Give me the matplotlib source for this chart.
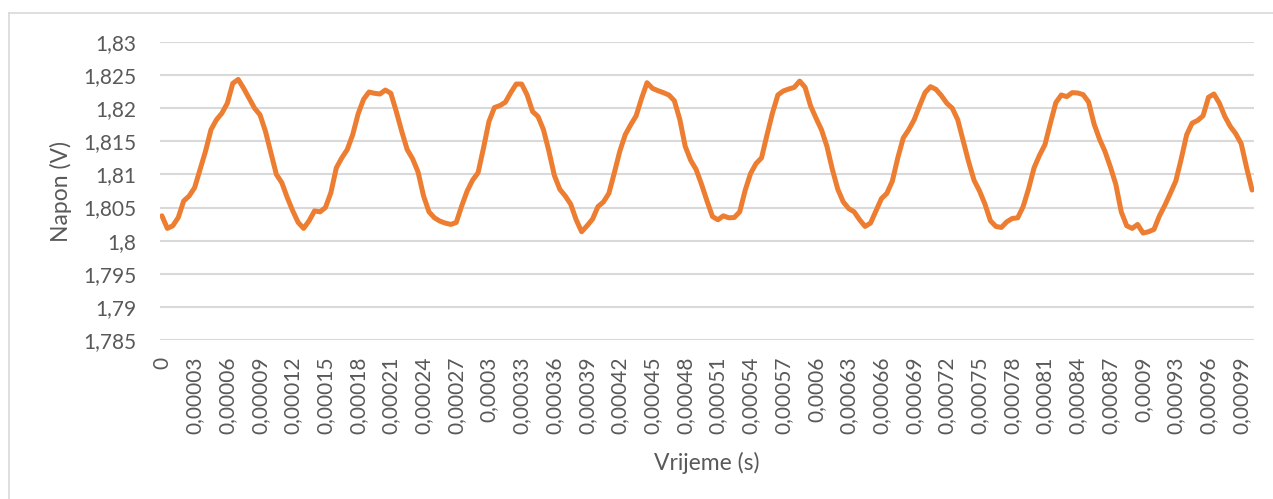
import numpy as np
import matplotlib
matplotlib.use('Agg')
import matplotlib.pyplot as plt
from matplotlib.lines import Line2D

# measured voltage, one sample every 5 us
napon = [
    1.80375, 1.80185, 1.80225, 1.8035, 1.806, 1.80675, 1.808, 1.81075, 1.8135, 1.81675,
    1.81825, 1.81925, 1.82075, 1.82375, 1.82435, 1.823, 1.8215, 1.82, 1.819, 1.8165,
    1.81325, 1.81, 1.80875, 1.8065, 1.8045, 1.80275, 1.80185, 1.803, 1.8045, 1.80435,
    1.805, 1.80725, 1.811, 1.8125, 1.81375, 1.816, 1.81915, 1.82135, 1.82245, 1.82225,
    1.82215, 1.82275, 1.82225, 1.8195, 1.8165, 1.81375, 1.81235, 1.81035, 1.80675, 1.80435,
    1.80345, 1.80295, 1.80265, 1.80245, 1.80275, 1.80525, 1.8075, 1.80915, 1.81025, 1.814,
    1.818, 1.8201, 1.8204, 1.8209, 1.82235, 1.82365, 1.82365, 1.822, 1.8195, 1.81875,
    1.81675, 1.8135, 1.80985, 1.80775, 1.80675, 1.8055, 1.80315, 1.80135, 1.80225, 1.80325,
    1.80515, 1.80585, 1.80715, 1.81025, 1.8135, 1.816, 1.8175, 1.81885, 1.8215, 1.82385,
    1.823, 1.82265, 1.82235, 1.822, 1.82115, 1.81835, 1.81425, 1.81215, 1.81075, 1.8085,
    1.806, 1.80365, 1.80315, 1.80375, 1.80345, 1.8035, 1.80435, 1.8076, 1.81015, 1.81165,
    1.8125, 1.81595, 1.81925, 1.822, 1.8226, 1.8229, 1.82315, 1.8241, 1.82315, 1.82035,
    1.8185, 1.81675, 1.81425, 1.81075, 1.80775, 1.80585, 1.80485, 1.80435, 1.80315, 1.80215,
    1.80265, 1.8045, 1.80635, 1.80715, 1.809, 1.8125, 1.8155, 1.81675, 1.81825, 1.82035,
    1.82235, 1.82325, 1.82285, 1.8219, 1.82075, 1.82, 1.81825, 1.8151, 1.8119, 1.8091,
    1.8075, 1.8055, 1.803, 1.80215, 1.802, 1.80285, 1.80335, 1.80345, 1.80515, 1.80785,
    1.811, 1.8129, 1.8145, 1.81775, 1.82085, 1.822, 1.82175, 1.82235, 1.8223, 1.82205,
    1.82095, 1.81765, 1.81535, 1.8135, 1.81115, 1.8085, 1.80435, 1.80225, 1.80185, 1.80245,
    1.80115, 1.80135, 1.8017, 1.80375, 1.80535, 1.80715, 1.809, 1.81235, 1.816, 1.81775,
    1.81815, 1.81885, 1.82165, 1.82215, 1.82075, 1.81875, 1.81725, 1.81615, 1.81465, 1.811,
    1.80765,
]

vrijeme_labels = [
    '0', '0,00003', '0,00006', '0,00009', '0,00012', '0,00015', '0,00018', '0,00021',
    '0,00024', '0,00027', '0,0003', '0,00033', '0,00036', '0,00039', '0,00042', '0,00045',
    '0,00048', '0,00051', '0,00054', '0,00057', '0,0006', '0,00063', '0,00066', '0,00069',
    '0,00072', '0,00075', '0,00078', '0,00081', '0,00084', '0,00087', '0,0009', '0,00093',
    '0,00096', '0,00099',
]
label_step = 6

y_ticks = [1.785, 1.79, 1.795, 1.8, 1.805, 1.81, 1.815, 1.82, 1.825, 1.83]
y_labels = ['1,785', '1,79', '1,795', '1,8', '1,805', '1,81', '1,815', '1,82', '1,825', '1,83']

txt = '#595959'
grid = '#d9d9d9'
plt.rcParams['font.family'] = ['Lato', 'DejaVu Sans']

fig = plt.figure(figsize=(12.73, 4.99), dpi=100)
ax = fig.add_axes([160 / 1273, 1 - 340 / 499, 1094 / 1273, 298 / 499])

x = np.arange(len(napon))
ax.plot(x, napon, color='#ED7D31', linewidth=3.6, solid_joinstyle='round',
        solid_capstyle='round', zorder=3)

ax.set_xlim(-0.35, len(napon) - 1 + 0.35)
ax.set_ylim(1.785, 1.83)
ax.set_yticks(y_ticks)
ax.set_yticklabels(y_labels)
ax.set_xticks(x[::label_step][:len(vrijeme_labels)])
ax.set_xticklabels(vrijeme_labels, rotation=90, va='top', ha='center')

ax.tick_params(axis='both', length=0, labelsize=15, labelcolor=txt)
ax.tick_params(axis='y', pad=17)
ax.tick_params(axis='x', pad=12)
ax.grid(axis='y', color=grid, linewidth=1.5)
ax.set_axisbelow(True)
for s in ax.spines.values():
    s.set_visible(False)

fig.text(61 / 1273, 1 - 191 / 499, 'Napon (V)', rotation=90, ha='center', va='center',
         fontsize=16.5, color=txt)
fig.text(707 / 1273, 1 - 463 / 499, 'Vrijeme (s)', ha='center', va='center',
         fontsize=16.5, color=txt)

# chart frame (runs off the right and bottom edges)
fig.add_artist(Line2D([8.5 / 1273, 8.5 / 1273], [0, 1 - 12.5 / 499], color=grid, lw=1.2))
fig.add_artist(Line2D([8.5 / 1273, 1], [1 - 12.5 / 499, 1 - 12.5 / 499], color=grid, lw=1.2))

fig.savefig('out.png', dpi=100)
